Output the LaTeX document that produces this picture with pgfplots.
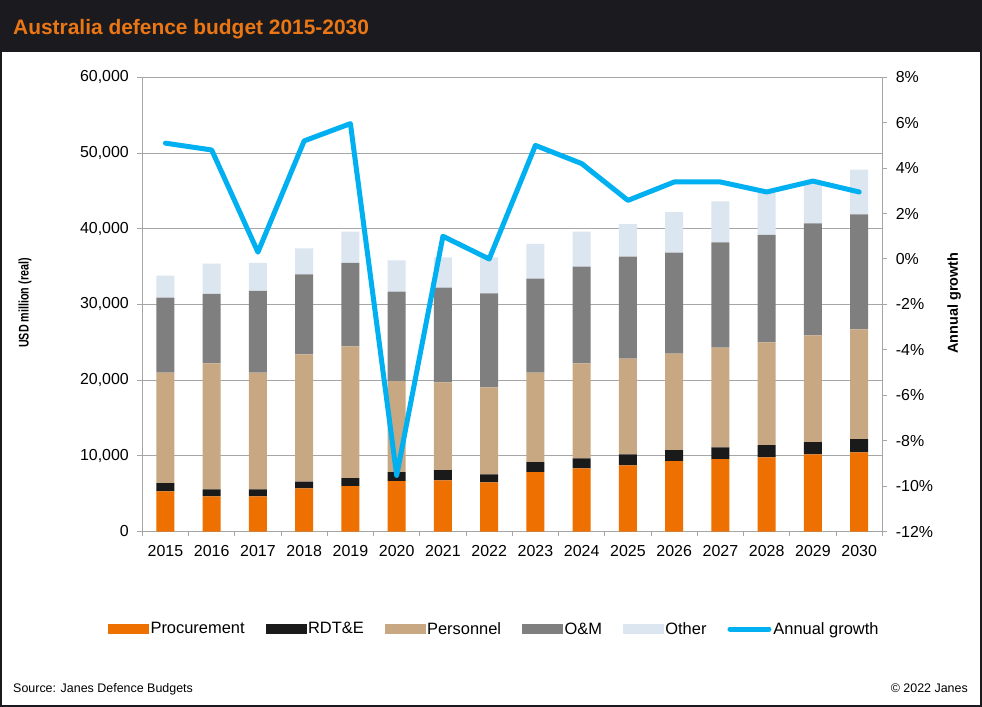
\documentclass[border=0pt]{standalone}
\usepackage{pgfplots}
\pgfplotsset{compat=1.18}
\usepackage{fontspec}
\setmainfont{Liberation Sans}
\definecolor{headbg}{HTML}{1B1A1E}
\definecolor{titleor}{HTML}{EB7614}
\definecolor{cproc}{HTML}{EE7000}
\definecolor{crdte}{HTML}{1A1A1A}
\definecolor{cpers}{HTML}{C8A882}
\definecolor{com}{HTML}{7F7F7F}
\definecolor{coth}{HTML}{DCE6F0}
\definecolor{cline}{HTML}{00B0F0}
\definecolor{cgrid}{HTML}{A6A6A6}
\begin{document}
\begin{tikzpicture}
\fill[headbg] (0bp,0bp) rectangle (982bp,707bp);
\fill[white] (2bp,2bp) rectangle (980bp,655bp);
\node[anchor=base west, inner sep=0, text=titleor, font=\fontsize{21}{24}\selectfont\bfseries] at (13bp,672.5bp) {Australia defence budget 2015-2030};
\node[anchor=base west, inner sep=0, font=\fontsize{12.5}{15}\selectfont] at (13bp,15bp) {Source: Janes Defence Budgets};
\node[anchor=base east, inner sep=0, font=\fontsize{12.5}{15}\selectfont] at (968bp,15bp) {\textcopyright\ 2022 Janes};
\begin{axis}[
  at={(142.3bp,175.5bp)}, anchor=south west,
  width=740bp, height=454.2bp, scale only axis,
  ybar stacked, bar width=18bp,
  xmin=-0.5, xmax=15.5, ymin=0, ymax=60000,
  ytick distance=10000,
  scaled y ticks=false,
  /pgf/number format/assume math mode=true,
  yticklabel style={/pgf/number format/1000 sep={,}, xshift=-5bp},
  xticklabel style={yshift=-5bp},
  ymajorgrids, grid style={cgrid, line width=1bp},
  axis x line*=bottom, axis y line*=left,
  axis line style={cgrid, line width=1bp},
  tick align=outside, major tick length=5bp,
  ytick style={cgrid, line width=1bp},
  xtick={0,...,15},
  xticklabels={2015,2016,2017,2018,2019,2020,2021,2022,2023,2024,2025,2026,2027,2028,2029,2030},
  xtick style={draw=none},
  extra x ticks={-0.5,0.5,...,15.5},
  extra x tick labels={},
  extra x tick style={xtick style={draw=cgrid, line width=1bp}, grid=none},
  tick label style={font=\fontsize{16}{19}\selectfont},
  ylabel={\scalebox{0.77}[1]{USD million (real)}},
  ylabel style={font=\fontsize{14}{16}\selectfont\bfseries, at={(axis description cs:-0.1585,0.503)}, anchor=center},
  legend columns=6,
  legend style={draw=none, fill=none, at={(axis description cs:-0.0464,-0.2147)}, anchor=west, inner sep=0pt,
    font=\fontsize{16.5}{19}\selectfont,
    /tikz/every even column/.append style={column sep=19bp}},
]
\addplot[fill=cproc, draw=none, forget plot] coordinates {(0,5300)(1,4650)(2,4650)(3,5700)(4,6000)(5,6650)(6,6750)(7,6500)(8,7850)(9,8350)(10,8750)(11,9300)(12,9550)(13,9800)(14,10200)(15,10450)};
\addplot[fill=crdte, draw=none, forget plot] coordinates {(0,1100)(1,900)(2,900)(3,900)(4,1050)(5,1200)(6,1350)(7,1050)(8,1300)(9,1300)(10,1450)(11,1450)(12,1550)(13,1600)(14,1600)(15,1750)};
\addplot[fill=cpers, draw=none, forget plot] coordinates {(0,14600)(1,16650)(2,15450)(3,16800)(4,17400)(5,12000)(6,11600)(7,11500)(8,11850)(9,12550)(10,12650)(11,12750)(12,13200)(13,13600)(14,14100)(15,14500)};
\addplot[fill=com, draw=none, forget plot] coordinates {(0,9900)(1,9200)(2,10800)(3,10550)(4,11050)(5,11850)(6,12500)(7,12400)(8,12400)(9,12800)(10,13450)(11,13350)(12,13900)(13,14200)(14,14800)(15,15200)};
\addplot[fill=coth, draw=none, forget plot] coordinates {(0,2900)(1,4000)(2,3700)(3,3450)(4,4100)(5,4100)(6,4000)(7,4750)(8,4600)(9,4600)(10,4300)(11,5350)(12,5400)(13,5500)(14,5300)(15,5900)};
\addlegendimage{legend image code/.code={\fill[cproc] (0bp,-4.5bp) rectangle (40bp,4.5bp);}}
\addlegendentry{Procurement}
\addlegendimage{legend image code/.code={\fill[crdte] (0bp,-4.5bp) rectangle (40bp,4.5bp);}}
\addlegendentry{RDT\&E}
\addlegendimage{legend image code/.code={\fill[cpers] (0bp,-4.5bp) rectangle (40bp,4.5bp);}}
\addlegendentry{Personnel}
\addlegendimage{legend image code/.code={\fill[com] (0bp,-4.5bp) rectangle (40bp,4.5bp);}}
\addlegendentry{O\&M}
\addlegendimage{legend image code/.code={\fill[coth] (0bp,-4.5bp) rectangle (40bp,4.5bp);}}
\addlegendentry{Other}
\addlegendimage{legend image code/.code={\draw[cline, line width=5bp, line cap=round] (2.5bp,0bp) -- (41.5bp,0bp);}}
\addlegendentry{Annual growth}
\end{axis}
\begin{axis}[
  at={(142.3bp,175.5bp)}, anchor=south west,
  width=740bp, height=454.2bp, scale only axis,
  xmin=-0.5, xmax=15.5, ymin=-12, ymax=8,
  ytick distance=2,
  axis x line=none, axis y line*=right,
  axis line style={cgrid, line width=1bp},
  tick align=outside, major tick length=5bp,
  ytick style={cgrid, line width=1bp},
  /pgf/number format/assume math mode=true,
  yticklabel={\pgfmathprintnumber{\tick}\%},
  yticklabel style={xshift=5bp},
  tick label style={font=\fontsize{16}{19}\selectfont},
  ylabel={Annual growth},
  ylabel style={font=\fontsize{14.5}{16}\selectfont\bfseries, at={(axis description cs:1.097,0.503)}, anchor=center},
]
\addplot[cline, line width=5bp, line join=round, line cap=round] coordinates {(0,5.1)(1,4.8)(2,0.3)(3,5.2)(4,5.96)(5,-9.53)(6,1.0)(7,0.0)(8,5.0)(9,4.2)(10,2.58)(11,3.39)(12,3.39)(13,2.95)(14,3.43)(15,2.95)};
\end{axis}
\end{tikzpicture}
\end{document}
